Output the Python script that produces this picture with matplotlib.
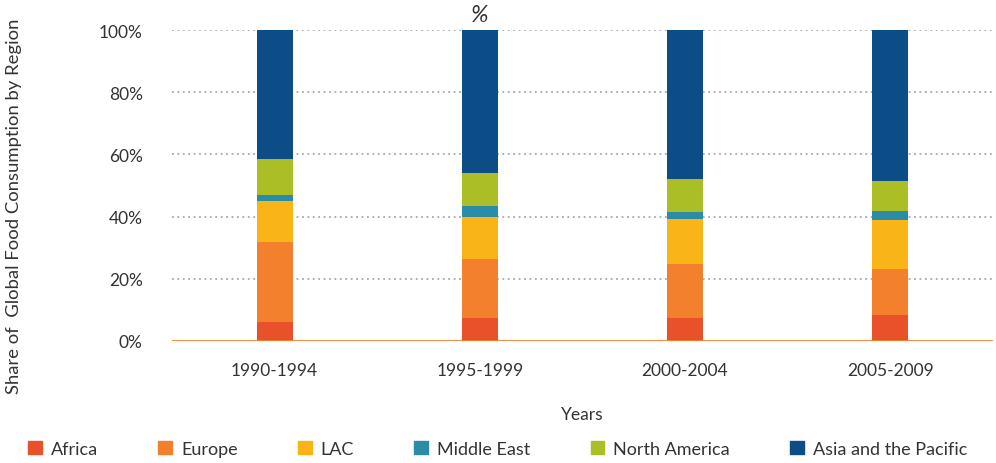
import numpy as np
import matplotlib.pyplot as plt
from matplotlib.patches import Patch

# share of global food consumption, percent
periods = ['1990-1994', '1995-1999', '2000-2004', '2005-2009']
regions = ['Africa', 'Europe', 'LAC', 'Middle East', 'North America', 'Asia and the Pacific']
africa = [6.1, 7.4, 7.4, 8.4]
europe = [25.7, 18.9, 17.3, 14.7]
lac = [13.2, 13.5, 14.5, 15.8]
middle_east = [1.9, 3.6, 2.2, 2.9]
north_america = [11.6, 10.6, 10.6, 9.6]
asia_pacific = [41.5, 46.0, 48.0, 48.6]
colors = ['#e9512b', '#f2802c', '#f9b418', '#2a8ca6', '#abbe26', '#0c4c87']

plt.rcParams['font.family'] = ['Lato', 'DejaVu Sans']
txt = '#333333'

fig = plt.figure(figsize=(9.96, 4.64), dpi=100)
ax = fig.add_axes([0.1727, 0.263, 0.824, 0.67])

x = np.arange(len(periods))
bottom = np.zeros(len(periods))
for vals, c in zip([africa, europe, lac, middle_east, north_america, asia_pacific], colors):
    ax.bar(x, vals, width=0.175, bottom=bottom, color=c, zorder=3)
    bottom += np.array(vals)

ax.set_xlim(-0.5, 3.5)
ax.set_ylim(0, 100)
ax.set_yticks([0, 20, 40, 60, 80, 100])
ax.set_yticklabels([f'{v}%' for v in range(0, 101, 20)])
ax.set_xticks(x)
ax.set_xticklabels(periods)
ax.tick_params(length=0, labelsize=12.5, labelcolor=txt)
ax.tick_params(axis='y', pad=21)
ax.tick_params(axis='x', pad=15)
for s in ax.spines.values():
    s.set_visible(False)
for v in range(20, 101, 20):
    ax.axhline(v, color='#a8a8a8', lw=1.3, ls=(0, (1, 2)), zorder=1)
ax.axhline(0, color='#f2802c', lw=2, zorder=4)

ax.set_xlabel('Years', fontsize=12.5, color=txt, labelpad=20)
fig.text(0.0145, 0.556, 'Share of  Global Food Consumption by Region', rotation=90,
         ha='center', va='center', fontsize=13.3, color=txt)
ax.text(1, 101.5, '%', ha='center', va='bottom', fontsize=17, style='italic', color=txt)

handles = [Patch(color=c) for c in colors]
fig.legend(handles, regions, loc='lower left', bbox_to_anchor=(0.012, -0.022), ncol=6,
           frameon=False, fontsize=13, labelcolor=txt, handlelength=0.75,
           handleheight=0.75, handletextpad=0.5, columnspacing=3.35)

fig.savefig('out.png')
